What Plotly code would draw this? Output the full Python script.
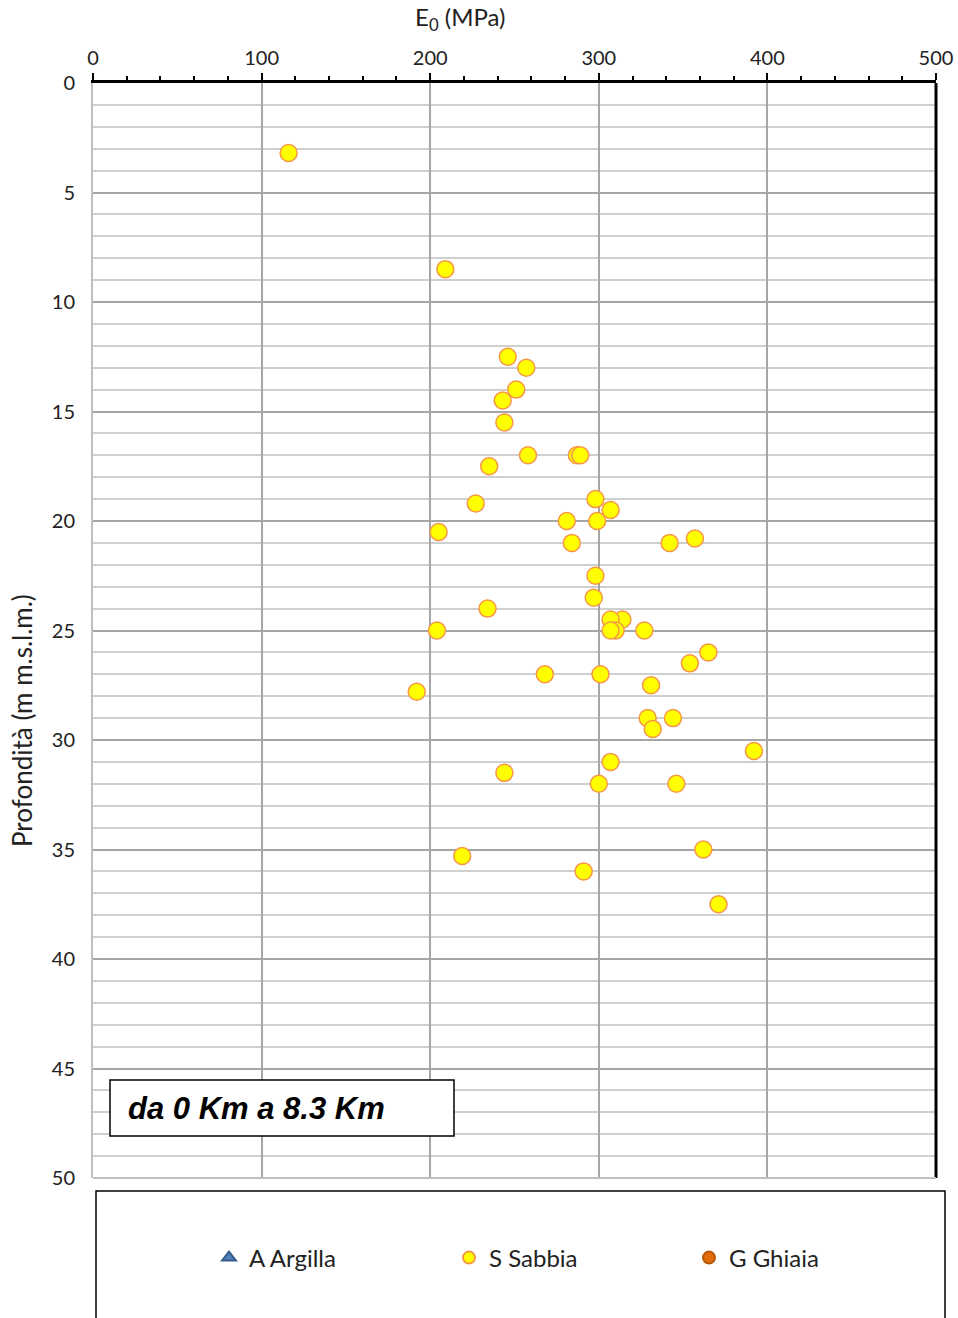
import plotly.graph_objects as go

# Data: E0 (MPa) vs depth (m)
sabbia_e0 = [116, 209, 246, 257, 251, 243, 244, 258, 287, 289, 235, 298, 227,
             307, 281, 299, 205, 284, 342, 357, 298, 297, 234, 314, 307, 310,
             307, 204, 327, 365, 354, 268, 301, 331, 192, 329, 344, 332, 392,
             307, 244, 300, 346, 362, 219, 291, 371]
sabbia_depth = [3.2, 8.5, 12.5, 13, 14, 14.5, 15.5, 17, 17, 17, 17.5, 19, 19.2,
                19.5, 20, 20, 20.5, 21, 21, 20.8, 22.5, 23.5, 24, 24.5, 24.5, 25,
                25, 25, 25, 26, 26.5, 27, 27, 27.5, 27.8, 29, 29, 29.5, 30.5,
                31, 31.5, 32, 32, 35, 35.3, 36, 37.5]
argilla_e0, argilla_depth = [], []
ghiaia_e0, ghiaia_depth = [], []

x_ticks = [0, 100, 200, 300, 400, 500]
y_ticks = [0, 5, 10, 15, 20, 25, 30, 35, 40, 45, 50]

FONT = "Lato"
W, H = 958, 1318
L, R, T, B = 93, 936, 83, 1178
pw, ph = R - L, B - T

def px(x):
    return (x - L) / pw

def py(y):
    return (B - y) / ph

fig = go.Figure()
fig.add_trace(go.Scatter(
    x=argilla_e0 or [None], y=argilla_depth or [None], mode="markers",
    name="A Argilla",
    marker=dict(symbol="triangle-up", size=12, color="#4F81BD",
                line=dict(color="#385D8A", width=1))))
fig.add_trace(go.Scatter(
    x=sabbia_e0, y=sabbia_depth, mode="markers", name="S Sabbia",
    marker=dict(symbol="circle", size=17, color="#FFFF00",
                line=dict(color="#F79646", width=1.5))))
fig.add_trace(go.Scatter(
    x=ghiaia_e0 or [None], y=ghiaia_depth or [None], mode="markers",
    name="G Ghiaia",
    marker=dict(symbol="circle", size=12, color="#E36C09",
                line=dict(color="#B65708", width=1))))

fig.update_layout(
    width=W, height=H, autosize=False,
    margin=dict(l=L, r=W - R, t=T, b=H - B, autoexpand=False),
    plot_bgcolor="white", paper_bgcolor="white",
    font=dict(family=FONT, size=20, color="#222222"),
    showlegend=True,
    legend=dict(orientation="h", x=px(209), xanchor="left", y=py(1258),
                yanchor="middle", itemsizing="constant",
                entrywidth=195, entrywidthmode="pixels",
                font=dict(family=FONT, size=24, color="#222222"),
                bgcolor="rgba(0,0,0,0)"),
    xaxis=dict(side="top", range=[0, 500], tickvals=x_ticks,
               automargin=False, ticklabeloverflow="allow",
               showgrid=True, gridcolor="#A6A6A6", gridwidth=1.5,
               zeroline=False, showline=True, linecolor="black", linewidth=2.5,
               ticks="outside", ticklen=7, tickwidth=1.5, tickcolor="black",
               minor=dict(dtick=20, ticks="outside", ticklen=4, tickwidth=1.5,
                          tickcolor="black", showgrid=False),
               tickfont=dict(family=FONT, size=20, color="#222222")),
    yaxis=dict(range=[50, 0], tickvals=y_ticks,
               automargin=False, ticklabeloverflow="allow",
               showgrid=True, gridcolor="#A6A6A6", gridwidth=1.5,
               zeroline=False, showline=True, linecolor="#BFBFBF", linewidth=2,
               ticks="", ticklabelstandoff=12,
               minor=dict(dtick=1, showgrid=True, gridcolor="#CFCFCF",
                          gridwidth=1.5),
               tickfont=dict(family=FONT, size=20, color="#222222")),
)

# right border and bottom line
fig.add_shape(type="line", xref="paper", yref="paper", x0=1, x1=1, y0=0, y1=1,
              line=dict(color="black", width=3))
fig.add_shape(type="line", xref="paper", yref="paper", x0=0, x1=1, y0=0, y1=0,
              line=dict(color="#BFBFBF", width=2))

# legend box
fig.add_shape(type="rect", xref="paper", yref="paper",
              x0=px(96), x1=px(945), y0=py(1191), y1=py(1330),
              line=dict(color="black", width=1.5), fillcolor="rgba(0,0,0,0)",
              layer="above")

# label box
fig.add_shape(type="rect", xref="paper", yref="paper",
              x0=px(110), x1=px(454), y0=py(1080), y1=py(1136),
              line=dict(color="black", width=1.5), fillcolor="white",
              layer="above")
fig.add_annotation(xref="paper", yref="paper", x=px(126), y=py(1108),
                   xanchor="left", yanchor="middle", showarrow=False,
                   text="<b><i>da 0 Km a 8.3 Km</i></b>",
                   font=dict(family="Liberation Sans", size=31, color="black"))

# axis titles
fig.add_annotation(xref="paper", yref="paper", x=px(460), y=py(18),
                   xanchor="center", yanchor="middle", showarrow=False,
                   text="E<sub>0</sub> (MPa)",
                   font=dict(family=FONT, size=24, color="#222222"))
fig.add_annotation(xref="paper", yref="paper", x=px(22), y=py(721),
                   xanchor="center", yanchor="middle", showarrow=False,
                   textangle=-90, text="Profondità (m m.s.l.m.)",
                   font=dict(family=FONT, size=26, color="#222222"))

fig.write_html("out.html", config={"responsive": False})
